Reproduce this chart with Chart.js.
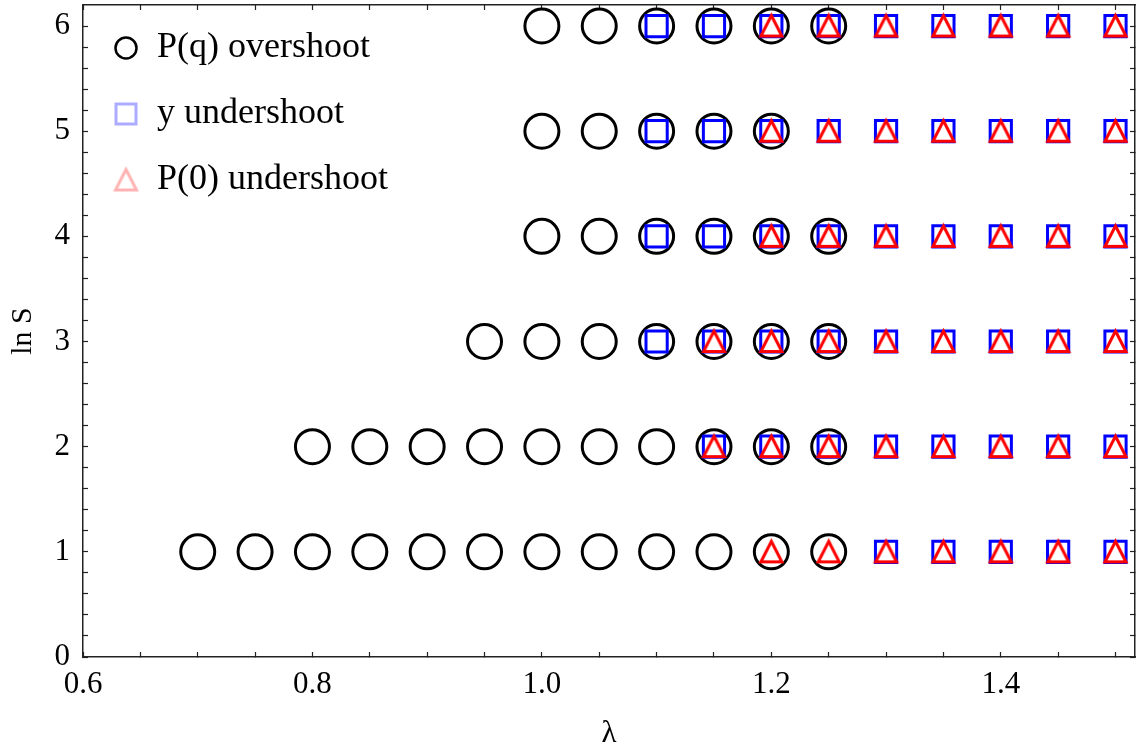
<!DOCTYPE html>
<html lang="en">
  <head>
    <meta charset="UTF-8" />
    <title>ln S vs lambda</title>
    <style>
      body {
        margin: 0;
        background-color: #fff;
      }
      .chart-container {
        width: 1137px;
        height: 752px;
      }
    </style>
  </head>
  <body>
    <div class="chart-container">
      <canvas id="shootChart"></canvas>
    </div>
    <script src="https://cdn.jsdelivr.net/npm/chart.js"></script>
    <script>
      // one row per ln S value
      const lnS = [1, 2, 3, 4, 5, 6];

      // lambda values where each criterion holds, row by row
      const overshootPq = [
        [0.7, 0.75, 0.8, 0.85, 0.9, 0.95, 1.0, 1.05, 1.1, 1.15, 1.2, 1.25],
        [0.8, 0.85, 0.9, 0.95, 1.0, 1.05, 1.1, 1.15, 1.2, 1.25],
        [0.95, 1.0, 1.05, 1.1, 1.15, 1.2, 1.25],
        [1.0, 1.05, 1.1, 1.15, 1.2, 1.25],
        [1.0, 1.05, 1.1, 1.15, 1.2],
        [1.0, 1.05, 1.1, 1.15, 1.2, 1.25],
      ];
      const undershootY = [
        [1.3, 1.35, 1.4, 1.45, 1.5],
        [1.15, 1.2, 1.25, 1.3, 1.35, 1.4, 1.45, 1.5],
        [1.1, 1.15, 1.2, 1.25, 1.3, 1.35, 1.4, 1.45, 1.5],
        [1.1, 1.15, 1.2, 1.25, 1.3, 1.35, 1.4, 1.45, 1.5],
        [1.1, 1.15, 1.2, 1.25, 1.3, 1.35, 1.4, 1.45, 1.5],
        [1.1, 1.15, 1.2, 1.25, 1.3, 1.35, 1.4, 1.45, 1.5],
      ];
      const undershootP0 = [
        [1.2, 1.25, 1.3, 1.35, 1.4, 1.45, 1.5],
        [1.15, 1.2, 1.25, 1.3, 1.35, 1.4, 1.45, 1.5],
        [1.15, 1.2, 1.25, 1.3, 1.35, 1.4, 1.45, 1.5],
        [1.2, 1.25, 1.3, 1.35, 1.4, 1.45, 1.5],
        [1.2, 1.25, 1.3, 1.35, 1.4, 1.45, 1.5],
        [1.2, 1.25, 1.3, 1.35, 1.4, 1.45, 1.5],
      ];

      const seriesLabels = ["P(q) overshoot", "y undershoot", "P(0) undershoot"];

      // axes
      const xRange = [0.6, 1.517];
      const yRange = [0, 6.2];
      const xLabelTicks = [0.6, 0.8, 1.0, 1.2, 1.4];
      const yLabelTicks = [0, 1, 2, 3, 4, 5, 6];
      const xMinorStep = 0.05;
      const yMinorStep = 0.2;

      const FONT = "'Liberation Serif', 'Times New Roman', serif";

      function toPoints(rows) {
        const pts = [];
        rows.forEach((row, i) => {
          row.forEach((lam) => pts.push({ x: lam, y: lnS[i] }));
        });
        return pts;
      }

      function tickValues(from, to, step) {
        const vals = [];
        const n = Math.round((to - from) / step);
        for (let i = 0; i <= n; i++) {
          vals.push(Math.round((from + i * step) * 1000) / 1000);
        }
        return vals;
      }
      const xTicks = tickValues(0.6, 1.5, xMinorStep);
      const yTicks = tickValues(0, 6, yMinorStep);

      function isIn(list, v) {
        return list.some((t) => Math.abs(t - v) < 1e-6);
      }

      // small canvases used as marker glyphs
      function glyph(shape, half, color, lw) {
        const size = Math.ceil(half * 2 + lw * 2 + 4);
        const c = document.createElement("canvas");
        c.width = size;
        c.height = size;
        const ctx = c.getContext("2d");
        const m = size / 2;
        ctx.strokeStyle = color;
        ctx.lineWidth = lw;
        ctx.lineJoin = "miter";
        ctx.beginPath();
        if (shape === "circle") {
          ctx.arc(m, m, half, 0, Math.PI * 2);
        } else if (shape === "rect") {
          ctx.rect(m - half, m - half, half * 2, half * 2);
        } else {
          ctx.moveTo(m, m - half);
          ctx.lineTo(m + half, m + half * 0.95);
          ctx.lineTo(m - half, m + half * 0.95);
          ctx.closePath();
        }
        ctx.stroke();
        return c;
      }

      const triangleMark = glyph("triangle", 10.5, "#ff0000", 3);
      const legendMarks = [
        glyph("circle", 10.5, "#000000", 2.5),
        glyph("rect", 10, "rgba(0, 0, 255, 0.33)", 3),
        glyph("triangle", 10.5, "rgba(255, 0, 0, 0.3)", 3),
      ];

      const frameColor = "#222";

      function frameAxis(position, isX, showLabels) {
        return {
          type: "linear",
          position: position,
          axis: isX ? "x" : "y",
          min: isX ? xRange[0] : yRange[0],
          max: isX ? xRange[1] : yRange[1],
          border: { display: true, color: frameColor, width: 1.5 },
          grid: {
            drawOnChartArea: false,
            drawTicks: true,
            tickLength: -5,
            tickColor: frameColor,
            tickWidth: 1.2,
          },
          afterBuildTicks: (scale) => {
            scale.ticks = (isX ? xTicks : yTicks).map((v) => ({ value: v }));
          },
          ticks: {
            display: showLabels,
            autoSkip: false,
            maxRotation: 0,
            padding: isX ? 14 : 18,
            color: "#000",
            font: { family: FONT, size: 31 },
            callback: (value) => {
              if (isX) return isIn(xLabelTicks, value) ? value.toFixed(1) : "";
              return isIn(yLabelTicks, value) ? String(Math.round(value)) : "";
            },
          },
        };
      }

      // fixed box sizes, and no extra room for edge labels
      function fixSize(scale, w, h) {
        if (w !== null) scale.width = w;
        if (h !== null) scale.height = h;
        scale.paddingTop = 0;
        scale.paddingBottom = 0;
        scale.paddingLeft = 0;
        scale.paddingRight = 0;
      }

      const xAxis = frameAxis("bottom", true, true);
      xAxis.title = {
        display: true,
        text: "λ",
        color: "#000",
        font: { family: FONT, size: 31 },
        padding: { top: 0, bottom: 0 },
      };
      xAxis.afterFit = (scale) => fixSize(scale, null, 95);

      const yAxis = frameAxis("left", false, true);
      yAxis.title = {
        display: true,
        text: "ln S",
        color: "#000",
        font: { family: FONT, size: 30 },
        padding: { top: 5, bottom: 0 },
      };
      yAxis.afterFit = (scale) => fixSize(scale, 83, null);

      const x2Axis = frameAxis("top", true, false);
      x2Axis.afterFit = (scale) => fixSize(scale, null, 0);
      const y2Axis = frameAxis("right", false, false);
      y2Axis.afterFit = (scale) => fixSize(scale, 0, null);

      const chartData = {
        datasets: [
          {
            label: seriesLabels[0],
            data: toPoints(overshootPq),
            pointStyle: "circle",
            pointRadius: 17,
            borderWidth: 3,
            borderColor: "#000",
            backgroundColor: "transparent",
            order: 3,
          },
          {
            label: seriesLabels[1],
            data: toPoints(undershootY),
            pointStyle: "rect",
            pointRadius: 15,
            borderWidth: 3,
            borderColor: "#0000ff",
            backgroundColor: "transparent",
            order: 2,
          },
          {
            label: seriesLabels[2],
            data: toPoints(undershootP0),
            pointStyle: triangleMark,
            pointRadius: 12,
            borderWidth: 3,
            borderColor: "#ff0000",
            backgroundColor: "transparent",
            order: 1,
          },
        ],
      };

      const config = {
        type: "scatter",
        data: chartData,
        options: {
          responsive: true,
          maintainAspectRatio: false,
          animation: false,
          events: [],
          layout: {
            autoPadding: false,
            padding: { left: 0, top: 5, right: 2, bottom: 0 },
          },
          scales: { x: xAxis, y: yAxis, x2: x2Axis, y2: y2Axis },
          plugins: {
            tooltip: { enabled: false },
            legend: {
              position: "chartArea",
              align: "start",
              labels: {
                usePointStyle: true,
                pointStyleWidth: 26,
                padding: 30,
                color: "#000",
                font: { family: FONT, size: 36 },
                sort: (a, b) => a.datasetIndex - b.datasetIndex,
                generateLabels: (chart) => {
                  const items =
                    Chart.defaults.plugins.legend.labels.generateLabels(chart);
                  items.forEach((it) => {
                    it.pointStyle = legendMarks[it.datasetIndex];
                  });
                  return items;
                },
              },
            },
          },
        },
      };

      const shootChart = new Chart(
        document.getElementById("shootChart"),
        config
      );
    </script>
  </body>
</html>
